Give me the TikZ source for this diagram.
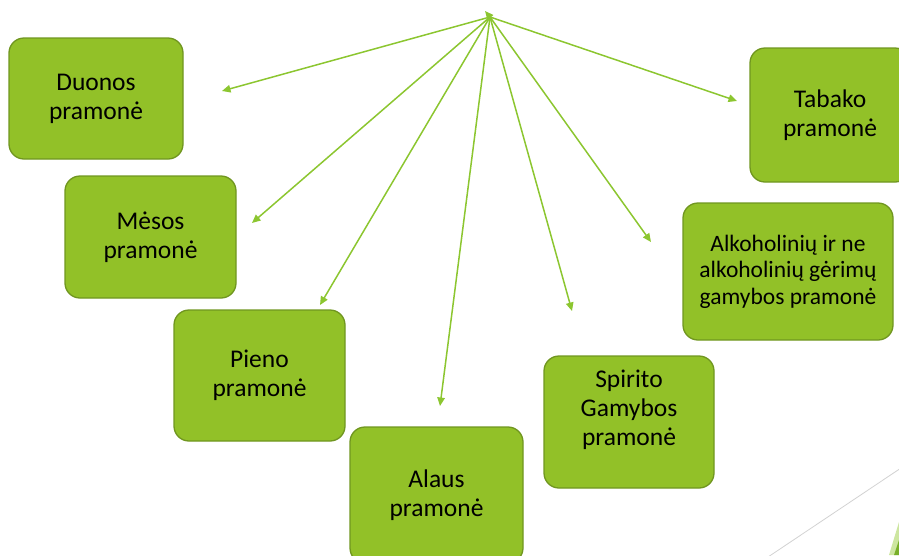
\documentclass[tikz,border=0pt]{standalone}
\usepackage{fontspec}
\setmainfont{Carlito}
\usetikzlibrary{arrows.meta}
\definecolor{boxfill}{RGB}{146,193,40}
\definecolor{boxline}{RGB}{112,150,32}
\definecolor{arrowc}{RGB}{140,198,48}
\definecolor{decolight}{RGB}{205,230,160}
\definecolor{decodark}{RGB}{120,175,40}
\tikzset{
  box/.style={draw=boxline, fill=boxfill, line width=1.3pt, rounded corners=15pt,
    inner sep=0pt, align=center, text=black},
  big/.style={font=\fontsize{25.5}{29}\selectfont},
  small/.style={font=\fontsize{23.5}{26.5}\selectfont},
  conn/.style={arrowc, line width=1.5pt, -{Triangle[length=8.5pt,width=7.5pt]}},
}
\begin{document}
\begin{tikzpicture}[x=1pt,y=-1pt]
\useasboundingbox (0,0) rectangle (899,555);
% decoration bottom right
\draw[gray!35, line width=0.8pt] (768,557) -- (901,468);
\fill[decolight] (889,555) -- (899,522) -- (899,555) -- cycle;
\fill[decodark] (894,555) -- (899,540) -- (899,555) -- cycle;
% boxes
\node[box, big, minimum width=174pt, minimum height=121pt] (duonos) at (96,98.5) {Duonos\\pramonė};
\node[box, big, minimum width=171pt, minimum height=122pt] (mesos) at (150.5,237) {Mėsos\\pramonė};
\node[box, big, minimum width=171pt, minimum height=131pt] (pieno) at (259.5,375.5) {Pieno\\pramonė};
\node[box, big, minimum width=173pt, minimum height=136pt] (alaus) at (436.5,495) {Alaus\\pramonė};
\node[box, minimum width=170pt, minimum height=132pt] (spirito) at (629,422) {};
\node[big, align=center, inner sep=0pt] (spiritotext) at (629,410) {Spirito\\Gamybos\\pramonė};
\node[box, small, minimum width=210pt, minimum height=137pt] (alk) at (788,271.5) {Alkoholinių ir ne\\alkoholinių gėrimų\\gamybos pramonė};
\node[box, big, minimum width=160pt, minimum height=134pt] (tabako) at (830,115) {Tabako\\pramonė};
% connectors
\coordinate (hub) at (490,17);
\coordinate (top) at (485,11);
\coordinate (tduonos) at (222,91);
\coordinate (tmesos) at (252,223);
\coordinate (tpieno) at (320,305);
\coordinate (talaus) at (440,406);
\coordinate (tspirito) at (572,311);
\coordinate (talk) at (651,242);
\coordinate (ttabako) at (737,101);
\draw[conn] (hub) -- (tduonos);
\draw[conn] (hub) -- (tmesos);
\draw[conn] (hub) -- (tpieno);
\draw[conn] (hub) -- (talaus);
\draw[conn] (hub) -- (tspirito);
\draw[conn] (hub) -- (talk);
\draw[conn] (hub) -- (ttabako);
\draw[conn] (hub) -- (top);
\end{tikzpicture}
\end{document}
